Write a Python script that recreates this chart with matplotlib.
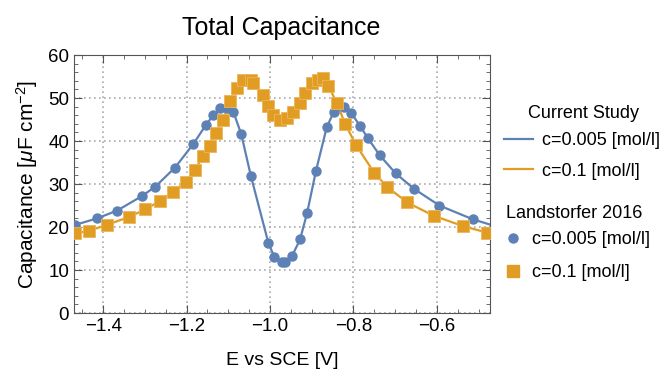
import matplotlib
matplotlib.use("Agg")
import matplotlib.pyplot as plt
from matplotlib.lines import Line2D
from matplotlib.ticker import MultipleLocator

plt.rcParams['font.family'] = ['Liberation Sans', 'DejaVu Sans']
plt.rcParams['mathtext.fontset'] = 'custom'
plt.rcParams['mathtext.rm'] = 'Liberation Sans'
plt.rcParams['mathtext.it'] = 'Liberation Sans:italic'

BLUE = '#5E81B5'
ORANGE = '#E19C24'

# Landstorfer 2016, c=0.005 mol/l (circles)
e_low = [-1.467, -1.415, -1.367, -1.307, -1.275, -1.228, -1.184, -1.154, -1.136,
         -1.120, -1.104, -1.088, -1.069, -1.046, -1.004, -0.990, -0.972, -0.964,
         -0.947, -0.928, -0.911, -0.890, -0.864, -0.847, -0.822, -0.806, -0.784,
         -0.765, -0.737, -0.699, -0.655, -0.594, -0.514]
c_low = [20.5, 22.0, 23.8, 27.2, 29.4, 33.8, 39.3, 43.7, 46.0,
         47.6, 47.6, 46.8, 41.6, 31.9, 16.3, 13.1, 11.9, 11.9,
         13.3, 17.1, 23.3, 33.0, 43.2, 46.8, 48.0, 46.6, 43.5,
         40.6, 36.7, 32.5, 28.9, 25.0, 21.8]

# Landstorfer 2016, c=0.1 mol/l (squares)
e_high = [-1.467, -1.435, -1.391, -1.339, -1.299, -1.263, -1.232, -1.202, -1.180,
          -1.160, -1.145, -1.129, -1.113, -1.096, -1.080, -1.064, -1.046, -1.040,
          -1.017, -1.006, -0.992, -0.976, -0.960, -0.944, -0.928, -0.916, -0.900,
          -0.884, -0.874, -0.860, -0.840, -0.820, -0.794, -0.750, -0.720, -0.671,
          -0.607, -0.537, -0.480]
c_high = [18.5, 19.1, 20.5, 22.3, 24.1, 26.1, 28.2, 30.5, 33.3,
          36.5, 38.8, 41.9, 44.9, 49.3, 52.3, 54.2, 54.3, 53.4,
          50.7, 48.1, 46.0, 45.0, 45.3, 46.8, 48.9, 51.1, 53.4,
          54.3, 54.6, 52.8, 48.9, 44.0, 39.1, 32.6, 29.4, 25.7,
          22.6, 20.2, 18.7]

# Current study model curves
e_model_low = [-1.48] + e_low + [-0.46]
c_model_low = [20.2] + c_low + [20.2]
e_model_high = [-1.48] + e_high + [-0.46]
c_model_high = [18.3] + c_high + [18.5]

fig = plt.figure(figsize=(6.61, 3.72), dpi=100)
ax = fig.add_axes([0.112, 0.1586, 0.629, 0.6935])

ax.plot(e_model_low, c_model_low, color=BLUE, lw=1.6, zorder=3)
ax.plot(e_model_high, c_model_high, color=ORANGE, lw=1.6, zorder=3)
ax.plot(e_low, c_low, 'o', color=BLUE, ms=6.5, mec=BLUE, zorder=4)
ax.plot(e_high, c_high, 's', color=ORANGE, ms=8, mec='#EDB55A', mew=0.6, zorder=4)

ax.set_xlim(-1.47, -0.473)
ax.set_ylim(0, 60)
ax.xaxis.set_major_locator(MultipleLocator(0.2))
ax.xaxis.set_minor_locator(MultipleLocator(0.05))
ax.yaxis.set_major_locator(MultipleLocator(10))
ax.yaxis.set_minor_locator(MultipleLocator(2))
ax.xaxis.set_major_formatter(plt.FuncFormatter(lambda v, p: f"{v:.1f}".replace('-', '\u2212')))
ax.grid(True, which='major', color='#AAAAAA', linestyle=(0, (1, 2)), lw=1.2)
ax.tick_params(which='both', direction='in', top=True, right=True, labelsize=13.5,
               color='#555555')
ax.tick_params(which='major', length=6)
ax.tick_params(which='minor', length=3)
for s in ax.spines.values():
    s.set_color('#555555')

fig.text(0.425, 0.906, 'Total Capacitance', fontsize=18, ha='center', va='baseline')
ax.set_xlabel('E vs SCE [V]', fontsize=14, labelpad=12)
ax.set_ylabel('Capacitance [$\\mu$F cm$^{-2}$]', fontsize=15, labelpad=6)

line_handles = [Line2D([], [], color=BLUE, lw=1.6), Line2D([], [], color=ORANGE, lw=1.6)]
mark_handles = [Line2D([], [], ls='', marker='o', color=BLUE, ms=6.5),
                Line2D([], [], ls='', marker='s', color=ORANGE, ms=8)]
labels = ['c=0.005 [mol/l]', 'c=0.1 [mol/l]']

fig.text(0.882, 0.696, 'Current Study', fontsize=13, ha='center', va='center')
fig.text(0.869, 0.427, 'Landstorfer 2016', fontsize=13, ha='center', va='center')

fig.legend(line_handles, labels, loc='upper left',
           bbox_to_anchor=(0.7625, 0.645), frameon=False, fontsize=13,
           handlelength=1.6, handletextpad=0.5,
           labelspacing=0.75, borderaxespad=0, borderpad=0)
fig.legend(mark_handles, labels, loc='upper left',
           bbox_to_anchor=(0.767, 0.379), frameon=False, fontsize=13,
           handlelength=0.7, handletextpad=0.69,
           labelspacing=0.89, borderaxespad=0, borderpad=0)

fig.savefig('out.png', dpi=100)
